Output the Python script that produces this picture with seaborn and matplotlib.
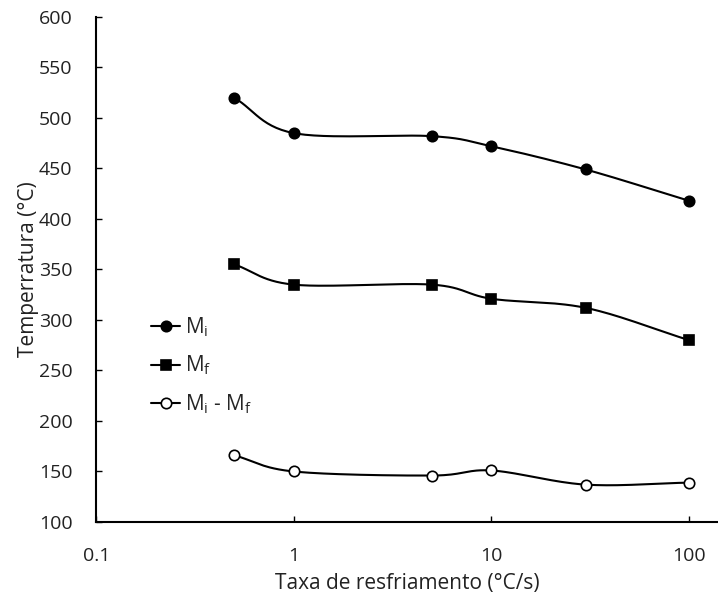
import numpy as np
import pandas as pd
import matplotlib
matplotlib.use("Agg")
import matplotlib.pyplot as plt
import seaborn as sns

rates = [0.5, 1, 5, 10, 30, 100]
mi = [520, 485, 482, 472, 449, 418]
mf = [355, 335, 335, 321, 312, 280]
diff = [166, 150, 146, 151, 137, 139]
labels = [r"M$_\mathregular{i}$", r"M$_\mathregular{f}$", r"M$_\mathregular{i}$ - M$_\mathregular{f}$"]

sns.set_theme(style="white")
plt.rcParams['font.family'] = ['Open Sans', 'DejaVu Sans']
plt.rcParams['mathtext.fontset'] = 'custom'
plt.rcParams['mathtext.rm'] = 'Open Sans'

fig = plt.figure(figsize=(7.18, 6), dpi=100)
ax = fig.add_axes([0.134, 0.13, 0.866, 0.8417])


def smooth(xs, ys, n=30):
    # Catmull-Rom style smoothing in log-x space (like spreadsheet smoothed lines)
    lx = np.log10(np.array(xs, float))
    y = np.array(ys, float)
    px = np.concatenate([[2 * lx[0] - lx[1]], lx, [2 * lx[-1] - lx[-2]]])
    py = np.concatenate([[2 * y[0] - y[1]], y, [2 * y[-1] - y[-2]]])
    outx, outy = [], []
    t = np.linspace(0, 1, n)
    for i in range(1, len(px) - 2):
        p0, p1, p2, p3 = [np.array([px[j], py[j]]) for j in (i - 1, i, i + 1, i + 2)]
        c1 = p1 + (p2 - p0) / 6
        c2 = p2 - (p3 - p1) / 6
        b = (np.outer((1 - t) ** 3, p1) + np.outer(3 * (1 - t) ** 2 * t, c1)
             + np.outer(3 * (1 - t) * t ** 2, c2) + np.outer(t ** 3, p2))
        outx.extend(b[:, 0]); outy.extend(b[:, 1])
    return 10 ** np.array(outx), np.array(outy)


series = [(mi, 'o', 'black'), (mf, 's', 'black'), (diff, 'o', 'white')]
handles = []
for (vals, mk, fc), lab in zip(series, labels):
    sx, sy = smooth(rates, vals)
    sns.lineplot(x=sx, y=sy, ax=ax, color='black', lw=1.5, sort=False, estimator=None)
    ax.plot(rates, vals, linestyle='none', marker=mk, markersize=7.5 if mk == 'o' else 7,
            markerfacecolor=fc, markeredgecolor='black', markeredgewidth=1.2, zorder=3)
    h, = ax.plot([], [], color='black', lw=1.5, marker=mk, markersize=7.5 if mk == 'o' else 7,
                 markerfacecolor=fc, markeredgecolor='black', markeredgewidth=1.2)
    handles.append(h)

ax.set_xscale('log')
ax.set_xlim(0.1, 140)
ax.set_ylim(100, 600)
ax.set_yticks(np.arange(100, 601, 50))
ax.set_xticks([0.1, 1, 10, 100])
ax.set_xticklabels(['0.1', '1', '10', '100'])
ax.xaxis.set_minor_locator(matplotlib.ticker.NullLocator())
for s in ['top', 'right']:
    ax.spines[s].set_visible(False)
for s in ['left', 'bottom']:
    ax.spines[s].set_color('black')
    ax.spines[s].set_linewidth(1.5)
ax.tick_params(axis='both', direction='in', length=4, width=1, colors='black',
               labelsize=14, left=True, bottom=True)
ax.tick_params(axis='x', pad=18)
ax.tick_params(axis='y', pad=17)
ax.set_xlabel('Taxa de resfriamento (°C/s)', fontsize=15, labelpad=6, color='#222222')
ax.set_ylabel('Temperratura (°C)', fontsize=15, labelpad=0, color='#222222')
for t in ax.get_xticklabels() + ax.get_yticklabels():
    t.set_color('#222222')

leg = ax.legend(handles, labels, loc='upper left', bbox_to_anchor=(0.075, 0.425),
                frameon=False, fontsize=15, handlelength=1.4, handletextpad=0.2,
                labelspacing=0.7, borderaxespad=0)

fig.savefig('out.png', dpi=100)
